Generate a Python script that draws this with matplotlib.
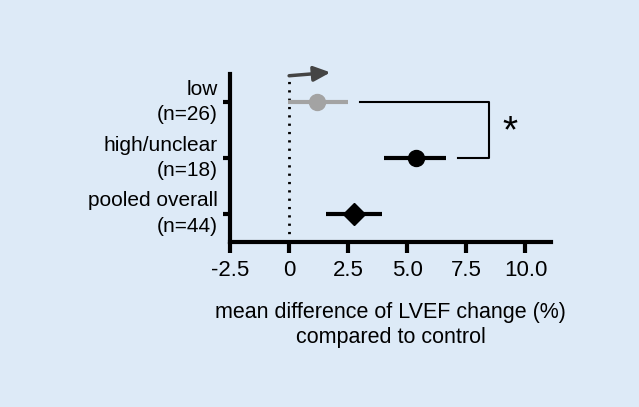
import matplotlib
matplotlib.use("Agg")
import matplotlib.pyplot as plt
import matplotlib.transforms as mtransforms

plt.rcParams['font.family'] = ['Liberation Sans', 'DejaVu Sans']

# Data
groups = ["low\n(n=26)", "high/unclear\n(n=18)", "pooled overall\n(n=44)"]
ypos = [3, 2, 1]
means = [1.2, 5.35, 2.75]
ci_low = [-0.05, 4.0, 1.55]
ci_high = [2.5, 6.65, 3.95]
markers = ["o", "o", "D"]
colors = ["#a3a3a3", "#000000", "#000000"]
xticks = [-2.5, 0, 2.5, 5.0, 7.5, 10.0]
xticklabels = ["-2.5", "0", "2.5", "5.0", "7.5", "10.0"]

bg = "#ddeaf7"
fig = plt.figure(figsize=(6.39, 4.07), dpi=100, facecolor=bg)
ax = fig.add_axes([0.36, 0.406, 0.503, 0.412])
ax.set_facecolor(bg)

for y, m, lo, hi, mk, c in zip(ypos, means, ci_low, ci_high, markers, colors):
    ax.plot([lo, hi], [y, y], color=c, lw=3, solid_capstyle="butt", zorder=3)
    ax.plot([m], [y], marker=mk, color=c, markersize=11.5, zorder=4)

# reference line at 0
ax.plot([0, 0], [0.5, 3.45], color="black", lw=2, linestyle=(0, (0.8, 2.2)), zorder=2)

# arrow
ax.annotate("", xy=(1.75, 3.53), xytext=(0.0, 3.47),
            arrowprops=dict(arrowstyle="-|>,head_length=1.0,head_width=0.45",
                            color="#444444", lw=2.5, shrinkA=0, shrinkB=0),
            annotation_clip=False)

# significance bracket
ax.plot([3.0, 8.45, 8.45, 7.15], [3, 3, 2, 2], color="black", lw=1.5, zorder=3)
ax.text(9.35, 2.45, "*", fontsize=28, ha="center", va="center")

ax.set_xlim(-2.5, 11.1)
ax.set_ylim(0.5, 3.5)
ax.set_xticks(xticks)
ax.set_xticklabels(xticklabels, fontsize=16)
ax.set_yticks(ypos)
ax.set_yticklabels(groups, fontsize=15, ha="right", va="center", linespacing=1.45)
offset = mtransforms.ScaledTranslation(0, -0.03, fig.dpi_scale_trans)
for lbl in ax.get_yticklabels():
    lbl.set_transform(lbl.get_transform() + offset)
ax.tick_params(axis="x", length=8, width=3, pad=5)
ax.tick_params(axis="y", length=5, width=3, pad=4)
for s in ["top", "right"]:
    ax.spines[s].set_visible(False)
for s in ["left", "bottom"]:
    ax.spines[s].set_linewidth(3)
ax.set_xlabel("mean difference of LVEF change (%)\ncompared to control", fontsize=15.5,
              labelpad=15, linespacing=1.25)

fig.savefig("out.png", dpi=100, facecolor=bg)
